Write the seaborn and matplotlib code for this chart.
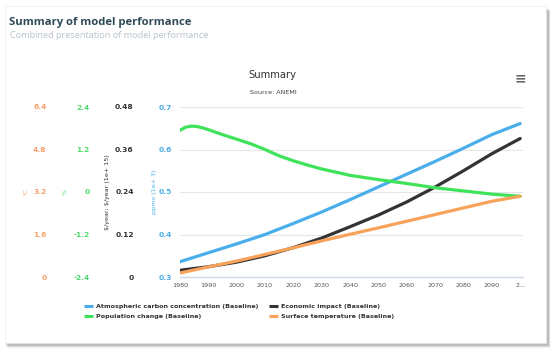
import matplotlib
matplotlib.use("Agg")
import matplotlib.pyplot as plt
from matplotlib.patches import Rectangle
import seaborn as sns
import pandas as pd

sns.set_theme(style="white")
plt.rcParams['font.family'] = ['DejaVu Sans']

# ---- data ----
years_main = [1980, 1990, 2000, 2010, 2020, 2030, 2040, 2050, 2060, 2070, 2080, 2090, 2100]
carbon_ppmv = [0.336, 0.357, 0.378, 0.400, 0.426, 0.453, 0.482, 0.512, 0.542, 0.572, 0.603, 0.635, 0.661]
economic = [0.019, 0.029, 0.042, 0.060, 0.083, 0.110, 0.142, 0.175, 0.212, 0.254, 0.300, 0.348, 0.391]
temperature = [0.15, 0.38, 0.60, 0.85, 1.10, 1.36, 1.61, 1.85, 2.10, 2.35, 2.60, 2.85, 3.04]
years_pop = [1980, 1982, 1984, 1986, 1988, 1990, 1995, 2000, 2005, 2010, 2015, 2020, 2025,
             2030, 2035, 2040, 2050, 2060, 2070, 2080, 2090, 2100]
population = [1.74, 1.83, 1.86, 1.85, 1.81, 1.76, 1.62, 1.49, 1.36, 1.20, 1.02, 0.88, 0.76,
              0.65, 0.56, 0.47, 0.35, 0.24, 0.12, 0.03, -0.06, -0.12]

x_ticks = [1980, 1990, 2000, 2010, 2020, 2030, 2040, 2050, 2060, 2070, 2080, 2090, 2100]
x_labels = ["1980", "1990", "2000", "2010", "2020", "2030", "2040", "2050", "2060",
            "2070", "2080", "2090", "2..."]
ppmv_ticks = [0.3, 0.4, 0.5, 0.6, 0.7]
econ_ticks = [0, 0.12, 0.24, 0.36, 0.48]
pop_ticks = [-2.4, -1.2, 0, 1.2, 2.4]
temp_ticks = [0, 1.6, 3.2, 4.8, 6.4]

series_names = ["Atmospheric carbon concentration (Baseline)", "Economic impact (Baseline)",
                "Population change (Baseline)", "Surface temperature (Baseline)"]

C_BLUE = "#4aaeea"
C_BLACK = "#333333"
C_GREEN = "#3fe35a"
C_ORANGE = "#f9a25a"
C_ORANGE_T = "#f5a06a"
C_GREEN_T = "#4fd96a"

df_main = pd.DataFrame({"year": years_main, "carbon": carbon_ppmv,
                        "econ": economic, "temp": temperature})
df_pop = pd.DataFrame({"year": years_pop, "pop": population})

W, H = 550, 351
fig = plt.figure(figsize=(W / 100, H / 100), dpi=100)
fig.patch.set_facecolor("white")

# card with shadow
for i, a in enumerate([0.06, 0.09, 0.13, 0.18]):
    off = 5 - i * 1.2
    fig.patches.append(Rectangle(((5 + off * 0.5) / W, 1 - (343 + off) / H),
                                 (541 + off * 0.5) / W, (337) / H, transform=fig.transFigure,
                                 facecolor="black", alpha=a, edgecolor="none", zorder=0))
fig.patches.append(Rectangle((5 / W, 1 - 343 / H), 541 / W, 337 / H, transform=fig.transFigure,
                             facecolor="white", edgecolor="#eeeeee", lw=0.5, zorder=1))

L, R, T, B = 180, 523, 107, 277
ax = fig.add_axes([L / W, 1 - B / H, (R - L) / W, (B - T) / H])
ax.set_facecolor("none")
ax.set_zorder(2)

ax_e = ax.twinx()
ax_p = ax.twinx()
ax_t = ax.twinx()

kw = dict(lw=2.3, solid_capstyle="round", solid_joinstyle="round", legend=False)
sns.lineplot(data=df_main, x="year", y="carbon", ax=ax, color=C_BLUE,
             label=series_names[0], **kw)
sns.lineplot(data=df_main, x="year", y="econ", ax=ax_e, color=C_BLACK,
             label=series_names[1], **kw)
sns.lineplot(data=df_pop, x="year", y="pop", ax=ax_p, color=C_GREEN,
             label=series_names[2], **kw)
sns.lineplot(data=df_main, x="year", y="temp", ax=ax_t, color=C_ORANGE,
             label=series_names[3], **kw)

ax.set_xlim(1980, 2101)
ax.set_xticks(x_ticks)
ax.set_xticklabels(x_labels)
ax.tick_params(axis="x", length=0, pad=4, labelsize=4.6, labelcolor="#555555")
ax.set_xlabel("")

ax.set_ylim(0.3, 0.7)
ax.set_yticks(ppmv_ticks)
ax.set_yticklabels(["0.3", "0.4", "0.5", "0.6", "0.7"])
ax.grid(axis="y", color="#e6e6e6", lw=0.8)
ax.grid(axis="x", visible=False)
for s in ["top", "right", "left"]:
    ax.spines[s].set_visible(False)
ax.spines["bottom"].set_color("#ccd6eb")
ax.spines["bottom"].set_linewidth(1.0)
ax.tick_params(axis="y", length=0, pad=6, labelsize=5.4, labelcolor=C_BLUE)
for t in ax.get_yticklabels():
    t.set_fontweight("bold")
ax.set_ylabel("ppmv (1e+ 3)", color=C_BLUE, fontsize=4.6)
ax.yaxis.set_label_coords(-0.068, 0.5)

def setup_twin(a, lim, ticks, labels, color, outward, ylabel, lcolor, lx):
    a.set_ylim(*lim)
    a.set_yticks(ticks)
    a.set_yticklabels(labels)
    a.yaxis.tick_left()
    a.yaxis.set_label_position("left")
    for s in a.spines.values():
        s.set_visible(False)
    a.spines["left"].set_position(("outward", outward))
    a.tick_params(axis="y", length=0, pad=6, labelsize=5.4, labelcolor=color,
                  left=False, right=False, labelleft=True, labelright=False)
    for t in a.get_yticklabels():
        t.set_fontweight("bold")
    a.set_ylabel(ylabel, color=lcolor, fontsize=4.6)
    a.yaxis.set_label_coords(lx, 0.5)
    a.grid(False)

px2pt = 0.72
setup_twin(ax_e, (0, 0.48), econ_ticks, ["0", "0.12", "0.24", "0.36", "0.48"], C_BLACK,
           38 * px2pt, "\\$/year; \\$/year (1e+ 15)", C_BLACK, -0.203)
setup_twin(ax_p, (-2.4, 2.4), pop_ticks, ["-2.4", "-1.2", "0", "1.2", "2.4"], C_GREEN_T,
           82 * px2pt, "%", C_GREEN_T, -0.328)
setup_twin(ax_t, (0, 6.4), temp_ticks, ["0", "1.6", "3.2", "4.8", "6.4"], C_ORANGE_T,
           125 * px2pt, "°C", C_ORANGE_T, -0.443)
for a in (ax_e, ax_p, ax_t):
    a.set_zorder(2)
    a.set_xlim(1980, 2101)

# legend
handles = [ax.get_lines()[0], ax_p.get_lines()[0], ax_e.get_lines()[0], ax_t.get_lines()[0]]
labels = [series_names[0], series_names[2], series_names[1], series_names[3]]
leg = fig.legend(handles, labels, ncol=2, loc="center left",
                 bbox_to_anchor=(84 / W, 1 - 311.5 / H), frameon=False,
                 prop={"size": 4.6, "weight": "bold"}, handlelength=1.4, handletextpad=0.5,
                 columnspacing=1.6, labelspacing=0.75, borderaxespad=0, borderpad=0)
for t in leg.get_texts():
    t.set_color("#333333")
for h in leg.legend_handles:
    h.set_linewidth(2.2)
    h.set_solid_capstyle("butt")

# titles
fig.text(9 / W, 1 - 23 / H, "Summary of model performance", fontsize=8.1, fontweight="bold",
         color="#2e4a57", va="center", ha="left", family=["Open Sans", "DejaVu Sans"])
fig.text(10 / W, 1 - 36 / H, "Combined presentation of model performance", fontsize=6.6,
         color="#b9c1ca", va="center", ha="left", family=["Open Sans", "DejaVu Sans"])
fig.text(272.5 / W, 1 - 75.5 / H, "Summary", fontsize=7.2, color="#333333",
         va="center", ha="center")
fig.text(273 / W, 1 - 93 / H, "Source: ANEMI", fontsize=4.6, color="#444444",
         va="center", ha="center")
fig.text(520 / W, 1 - 78 / H, "≡", fontsize=10, color="#666666", va="center", ha="center",
         fontweight="bold")

fig.savefig("out.png", dpi=100)
